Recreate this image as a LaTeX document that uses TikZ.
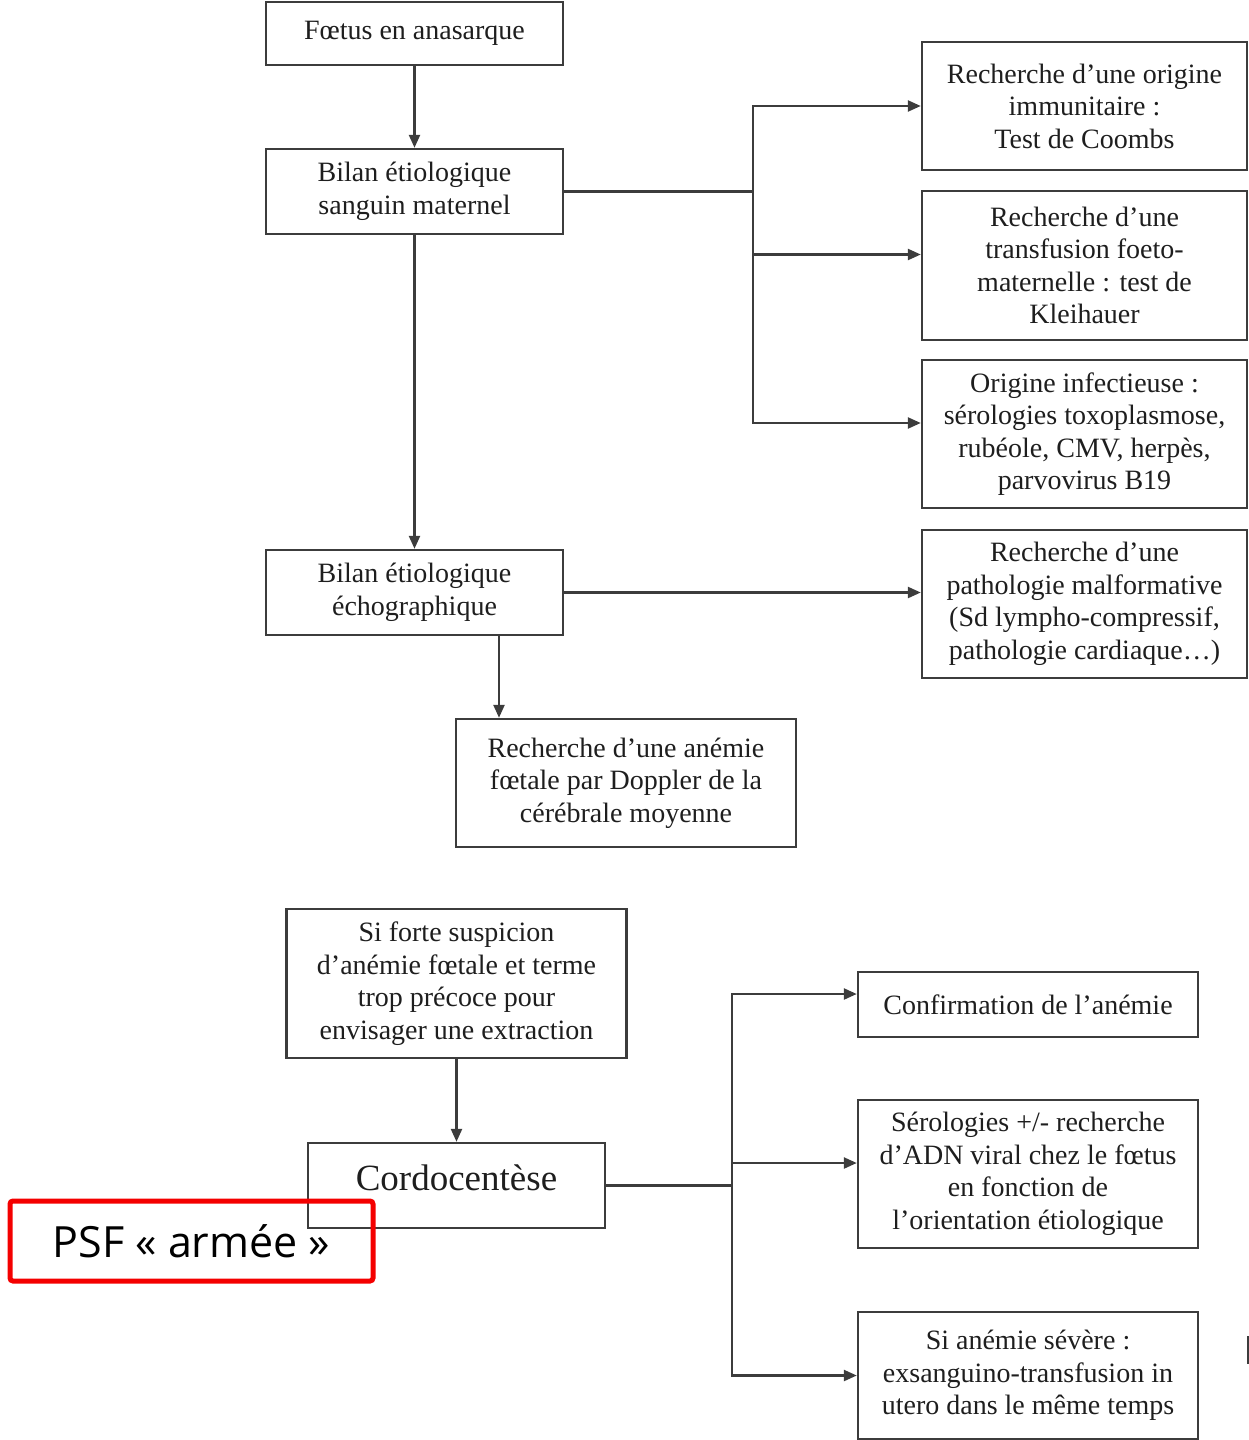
\documentclass[tikz,border=0pt]{standalone}
\usepackage{fontspec}
\setmainfont{Liberation Serif}
\newfontfamily\psffont{Open Sans}
\usetikzlibrary{arrows.meta}
\definecolor{linegray}{HTML}{3C3C3C}
\definecolor{txtgray}{HTML}{1E1E1E}
\definecolor{psfred}{HTML}{F40000}
\begin{document}
\begin{tikzpicture}[x=1pt,y=-1pt,
  box/.style={draw=linegray, line width=2.4pt, rectangle, align=center,
    inner sep=0pt, text=txtgray, font=\fontsize{28}{32.5}\selectfont},
  conn/.style={draw=linegray, line width=2.4pt},
  arr/.style={conn, -{Triangle[length=13pt,width=11pt]}},
  redbox/.style={draw=psfred, line width=5pt, rounded corners=3pt, rectangle,
    align=center, inner sep=0pt, text=black, font=\psffont\fontsize{43}{50}\selectfont}
]
\useasboundingbox (0,0) rectangle (1249,1440);

% top part
\node[box, minimum width=297pt, minimum height=63pt] (A) at (414.5,33.5) {\raisebox{3pt}{Fœtus en anasarque}};
\node[box, minimum width=297pt, minimum height=85pt] (B) at (414.5,191.5) {Bilan étiologique\\sanguin maternel};
\node[box, minimum width=325pt, minimum height=128pt] (R1) at (1084.5,106) {Recherche d’une origine\\immunitaire :\\Test de Coombs};
\node[box, minimum width=325pt, minimum height=149pt] (R2) at (1084.5,265.5) {Recherche d’une\\transfusion foeto-\\maternelle : test de\\Kleihauer};
\node[box, minimum width=325pt, minimum height=148pt] (R3) at (1084.5,434) {Origine infectieuse :\\sérologies toxoplasmose,\\rubéole, CMV, herpès,\\parvovirus B19};
\node[box, minimum width=325pt, minimum height=148pt] (R4) at (1084.5,604) {Recherche d’une\\pathologie malformative\\(Sd lympho-compressif,\\pathologie cardiaque…)};
\node[box, minimum width=297pt, minimum height=85pt] (C) at (414.5,592.5) {Bilan étiologique\\échographique};
\node[box, minimum width=340pt, minimum height=128pt] (D) at (626,783) {Recherche d’une anémie\\fœtale par Doppler de la\\cérébrale moyenne};

\coordinate (T1) at (753,191.5);
\draw[arr] (A) -- (B);
\draw[conn] (B.east) -- (T1);
\draw[arr] (T1) |- (R1.west);
\draw[arr] (T1) |- ([yshift=11pt]R2.west);
\draw[arr] (T1) |- ([yshift=11pt]R3.west);
\draw[arr] (B) -- (C);
\draw[arr] (C.east) -- (C.east -| R4.west);
\draw[arr] ([xshift=84.5pt]C.south) -- ([xshift=84.5pt]C.south |- D.north);

% bottom part
\node[box, minimum width=340pt, minimum height=149pt] (E) at (456.5,983.5) {Si forte suspicion\\d’anémie fœtale et terme\\trop précoce pour\\envisager une extraction};
\node[box, minimum width=297pt, minimum height=85pt, font=\fontsize{37}{40}\selectfont] (F) at (456.5,1185.5) {\raisebox{16pt}{Cordocentèse}};
\node[box, minimum width=340pt, minimum height=65pt] (G) at (1028,1004.5) {Confirmation de l’anémie};
\node[box, minimum width=340pt, minimum height=148pt] (H) at (1028,1174) {Sérologies +/- recherche\\d’ADN viral chez le fœtus\\en fonction de\\l’orientation étiologique};
\node[box, minimum width=340pt, minimum height=127pt] (I) at (1028,1375.5) {Si anémie sévère :\\exsanguino-transfusion in\\utero dans le même temps};

\coordinate (T2) at (732,1185.5);
\draw[arr] (E) -- (F);
\draw[conn] (F.east) -- (T2);
\draw[arr] (T2) |- ([yshift=10.5pt]G.west);
\draw[arr] (T2) |- ([yshift=11pt]H.west);
\draw[arr] (T2) |- (I.west);

% red label
\node[redbox, minimum width=363pt, minimum height=80pt] (PSF) at (191.5,1241) {PSF « armée »};

% edge mark
\draw[conn, line width=2pt] (1247.5,1336) -- (1247.5,1364);
\end{tikzpicture}
\end{document}
